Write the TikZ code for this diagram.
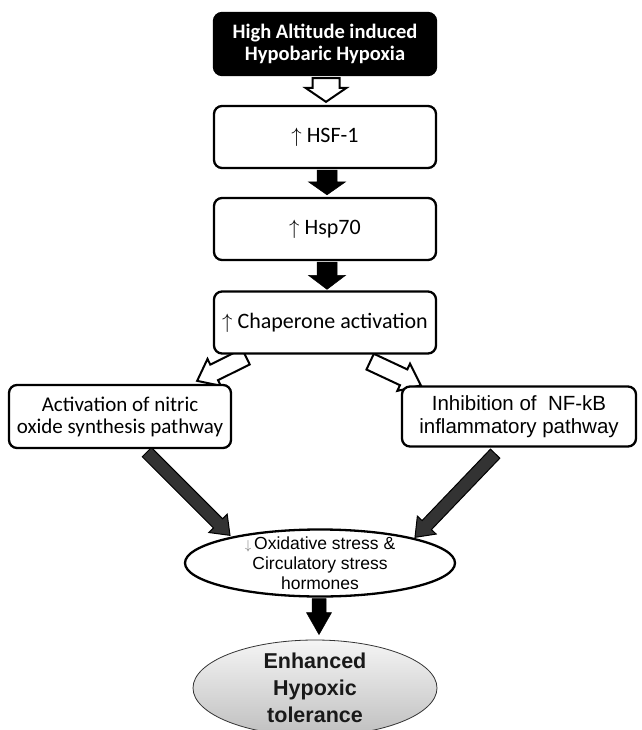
\documentclass[tikz,border=0pt]{standalone}
\usepackage{fontspec}
\newfontfamily\carl{Carlito}
\newfontfamily\ari{Liberation Sans}
\usetikzlibrary{shapes.geometric,calc}
\pgfdeclarelayer{bg}
\pgfdeclarelayer{paper}
\pgfsetlayers{paper,bg,main}
\newcommand\blockarr[6]{%
  \coordinate (bah) at ($(#3)!#6!(#2)$);
  \path[#1] ($(#2)!#4!90:(#3)$) -- ($(bah)!#4!90:(#3)$) -- ($(bah)!#5!90:(#3)$) -- (#3)
    -- ($(bah)!#5!-90:(#3)$) -- ($(bah)!#4!-90:(#3)$) -- ($(#2)!#4!-90:(#3)$) -- cycle;}
\begin{document}
\begin{tikzpicture}[x=1pt,y=-1pt,
  box/.style={draw, line width=2.3pt, rounded corners=8pt, minimum width=222pt,
    minimum height=62pt, inner sep=0pt, align=center, fill=white},
  wa/.style={draw, fill=white, line width=2pt, line join=miter},
  ba/.style={fill=black, draw=black, line width=0.5pt},
  da/.style={fill=black!80, draw=black, line width=1pt, line join=miter}]
\useasboundingbox (0,0) rectangle (641,730);
\clip (0,0) rectangle (641,730);
\begin{pgfonlayer}{paper}
\fill[white] (0,0) rectangle (641,730);
\end{pgfonlayer}

\node[box, fill=black, text=white, font=\carl\bfseries\fontsize{20.5}{22}\selectfont] (top) at (325,44) {High Altitude induced\\Hypobaric Hypoxia};
\node[box, font=\carl\fontsize{22}{24}\selectfont] (hsf) at (325,137) {$\uparrow$ HSF-1};
\node[box, font=\carl\fontsize{22}{24}\selectfont] (hsp) at (325,229) {$\uparrow$ Hsp70};
\node[box, font=\carl\fontsize{22}{24}\selectfont] (chap) at (325,322.5) {$\uparrow$ Chaperone activation};
\node[box, font=\carl\fontsize{21}{22}\selectfont, minimum height=63pt] (nos) at (120,416.5) {Activation of nitric\\oxide synthesis pathway};
\node[box, font=\ari\fontsize{20.5}{23}\selectfont, minimum width=234pt, minimum height=60pt] (nfkb) at (519,416.5) {Inhibition of\ \ NF-kB\\inflammatory pathway};
\node[ellipse, draw, line width=2.3pt, fill=white, minimum width=270pt, minimum height=67pt, inner sep=0pt] (ox) at (320,563) {};
\node[align=center, font=\ari\fontsize{17.5}{20}\selectfont, inner sep=0pt] (oxt) at (ox) {{\color{black!55}\scalebox{0.75}{$\downarrow$}}\,Oxidative stress \&\\Circulatory stress\\hormones};
\node[ellipse, draw=black!80, line width=0.8pt, top color=gray!8, bottom color=gray!50, minimum width=244pt, minimum height=96pt, inner sep=0pt] (enh) at (315,688) {};
\node[align=center, font=\ari\bfseries\fontsize{21.5}{27}\selectfont, text=black!90, inner sep=0pt] (enht) at (enh) {Enhanced\\Hypoxic\\tolerance};

\begin{pgfonlayer}{bg}
\coordinate (a1s) at ($(top.south)+(1,2)$);
\coordinate (a1e) at ($(hsf.north)+(1,-3)$);
\coordinate (a2s) at ($(hsf.south)+(2,1)$);
\coordinate (a2e) at ($(hsp.north)+(2,-2)$);
\coordinate (a3s) at ($(hsp.south)+(2,1)$);
\coordinate (a3e) at ($(chap.north)+(2,-1)$);
\coordinate (a4s) at ($(chap.south west)+(33,2)$);
\coordinate (a4e) at ($(nos.north east)+(-35,-3)$);
\coordinate (a5s) at ($(chap.south east)+(-67,7)$);
\coordinate (a5e) at ($(nfkb.north west)+(20,0)$);
\coordinate (a6s) at ($(nos.south west)+(139,3)$);
\coordinate (a6e) at ($(ox.north)+(-90,7)$);
\coordinate (a7s) at ($(nfkb.south east)+(-142,6)$);
\coordinate (a7e) at ($(ox.north)+(95,9)$);
\coordinate (a8s) at ($(ox.south)+(-1,1)$);
\coordinate (a8e) at ($(enh.north)+(4,-5)$);
\blockarr{wa}{a1s}{a1e}{13.5pt}{20.5pt}{14pt}
\blockarr{ba}{a2s}{a2e}{10pt}{18.5pt}{13pt}
\blockarr{ba}{a3s}{a3e}{10pt}{18.5pt}{14pt}
\blockarr{wa}{a4s}{a4e}{8.7pt}{15pt}{19pt}
\blockarr{wa}{a5s}{a5e}{8.7pt}{15pt}{19pt}
\blockarr{da}{a6s}{a6e}{6.5pt}{13pt}{17pt}
\blockarr{da}{a7s}{a7e}{6.5pt}{13pt}{17pt}
\blockarr{ba}{a8s}{a8e}{7pt}{12.5pt}{22pt}
\end{pgfonlayer}
\end{tikzpicture}
\end{document}
